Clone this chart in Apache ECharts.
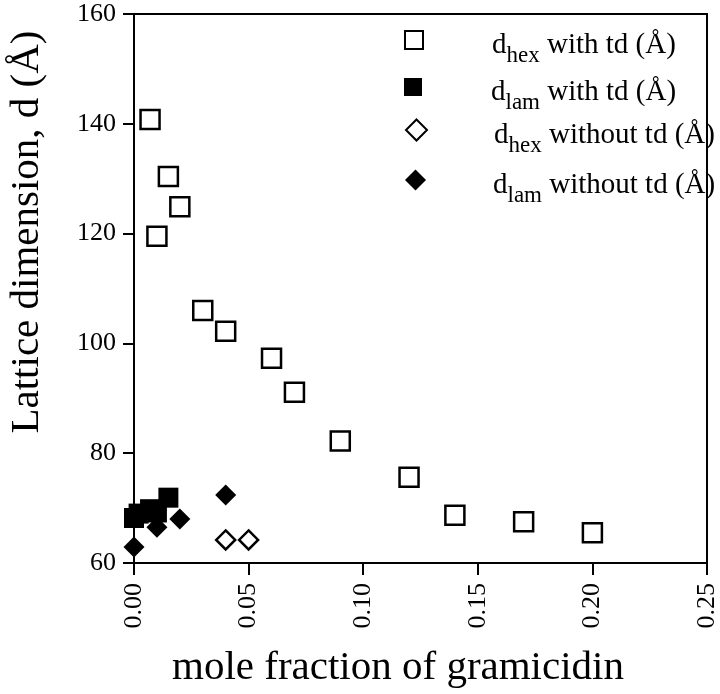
<!DOCTYPE html>
<html>
<head>
<meta charset="utf-8">
<script src="https://cdn.jsdelivr.net/npm/echarts@6/dist/echarts.min.js"></script>
<style>
  html, body { margin: 0; padding: 0; background: #fff; }
  #chart { width: 720px; height: 694px; }
</style>
</head>
<body>
<div id="chart"></div>
<script>
  // [mole fraction, d (Å)]
  var hexWithTd = [[0.007, 140.8], [0.015, 130.4], [0.01, 119.5], [0.02, 124.9], [0.03, 106.0],
    [0.04, 102.2], [0.06, 97.3], [0.07, 91.1], [0.09, 82.2], [0.12, 75.6], [0.14, 68.7],
    [0.17, 67.5], [0.2, 65.5]];
  var lamWithTd = [[0, 68.2], [0.002, 69.0], [0.007, 69.8], [0.01, 69.2], [0.015, 71.9]];
  var hexWithoutTd = [[0.04, 64.2], [0.05, 64.2]];
  var lamWithoutTd = [[0, 62.9], [0.01, 66.5], [0.02, 68.0], [0.04, 72.4]];

  var legendSub = ['hex', 'lam', 'hex', 'lam'];
  var legendTail = [' with td (Å)', ' with td (Å)', ' without td (Å)', ' without td (Å)'];
  var seriesNames = ['dhex with td', 'dlam with td', 'dhex without td', 'dlam without td'];
  var legendTop = [25, 72, 115, 165];

  var FONT = 'Liberation Serif';
  var chart = echarts.init(document.getElementById('chart'));

  var legends = seriesNames.map(function (name, i) {
    var box = i < 2 ? 18 : 21;   // diamonds look smaller, give them a bigger box
    return {
      data: [name],
      left: i < 2 ? 404 : 405,
      top: legendTop[i],
      padding: 0,
      selectedMode: false,
      itemWidth: box,
      itemHeight: box,
      formatter: function () {
        return '{p| }{d|d}{s|' + legendSub[i] + '}{t|' + legendTail[i] + '}';
      },
      textStyle: {
        color: '#000',
        fontFamily: FONT,
        rich: {
          p: {width: 64 - (box - 18) + (i < 2 ? 0 : 1), fontSize: 10},
          d: {fontSize: 29, fontFamily: FONT, color: '#000', lineHeight: 30, padding: [6, 0, 0, 0], verticalAlign: 'top'},
          t: {fontSize: 29, fontFamily: FONT, color: '#000', lineHeight: 30, padding: [6, 0, 0, 0], verticalAlign: 'top'},
          s: {fontSize: 23, fontFamily: FONT, color: '#000', lineHeight: 20, padding: [19, 0, 0, 0], verticalAlign: 'top'}
        }
      }
    };
  });

  var option = {
    backgroundColor: '#fff',
    animation: false,
    textStyle: {fontFamily: FONT},
    grid: {
      left: 134, right: 9, top: 14, bottom: 131,
      show: true, borderColor: '#000', borderWidth: 2
    },
    legend: legends,
    xAxis: {
      type: 'value',
      min: 0, max: 0.25, interval: 0.05,
      splitLine: {show: false},
      axisLine: {lineStyle: {color: '#000', width: 2}},
      axisTick: {length: 12, lineStyle: {color: '#000', width: 2}},
      axisLabel: {
        rotate: 90, margin: 20, color: '#000', fontSize: 26, fontFamily: FONT,
        formatter: function (v) { return v.toFixed(2); }
      }
    },
    yAxis: {
      type: 'value',
      min: 60, max: 160, interval: 20,
      splitLine: {show: false},
      axisLine: {lineStyle: {color: '#000', width: 2}},
      axisTick: {length: 11, lineStyle: {color: '#000', width: 2}},
      axisLabel: {margin: 18, color: '#000', fontSize: 26, fontFamily: FONT}
    },
    graphic: [
      {
        type: 'text', x: 27, y: 232, rotation: Math.PI / 2,
        style: {text: 'Lattice dimension, d (Å)', fontSize: 41, fontFamily: FONT, fill: '#000',
          align: 'center', verticalAlign: 'middle'}
      },
      {
        type: 'text', x: 398, y: 668,
        style: {text: 'mole fraction of gramicidin', fontSize: 41, fontFamily: FONT, fill: '#000',
          align: 'center', verticalAlign: 'middle'}
      }
    ],
    series: [
      {
        name: seriesNames[0], type: 'scatter', data: hexWithTd,
        symbol: 'rect', symbolSize: 19,
        itemStyle: {color: '#fff', borderColor: '#000', borderWidth: 2.5, opacity: 1}
      },
      {
        name: seriesNames[1], type: 'scatter', data: lamWithTd,
        symbol: 'rect', symbolSize: 20,
        itemStyle: {color: '#000', opacity: 1}
      },
      {
        name: seriesNames[2], type: 'scatter', data: hexWithoutTd,
        symbol: 'diamond', symbolSize: 19,
        itemStyle: {color: '#fff', borderColor: '#000', borderWidth: 2.5, opacity: 1}
      },
      {
        name: seriesNames[3], type: 'scatter', data: lamWithoutTd,
        symbol: 'diamond', symbolSize: 21,
        itemStyle: {color: '#000', opacity: 1}
      }
    ]
  };

  chart.setOption(option);
</script>
</body>
</html>
